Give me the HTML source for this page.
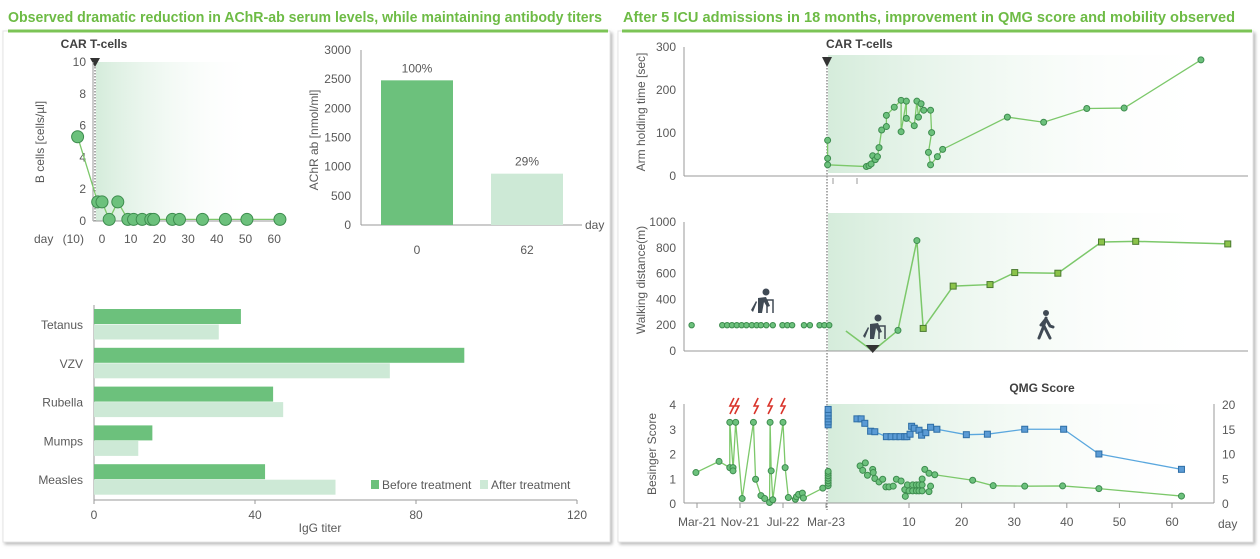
<!DOCTYPE html>
<html><head><meta charset="utf-8">
<style>
html,body{margin:0;padding:0;background:#fff;}
svg{display:block;font-family:"Liberation Sans",sans-serif;}
.t{fill:#595959;font-size:12px;}
.h{fill:#6dbb45;font-size:14.5px;font-weight:bold;}
.b{fill:#404040;font-size:12px;font-weight:bold;}
</style></head>
<body>
<svg id="fig" width="1260" height="559" viewBox="0 0 1260 559">
<defs>
<linearGradient id="shade" x1="0" x2="1" y1="0" y2="0">
<stop offset="0" stop-color="#d5ecdb"/><stop offset="1" stop-color="#ffffff" stop-opacity="0"/>
</linearGradient>
<filter id="sh" x="-5%" y="-5%" width="110%" height="110%"><feDropShadow dx="2" dy="2" stdDeviation="1.5" flood-color="#888" flood-opacity="0.6"/></filter>
</defs>
<!-- panels -->
<rect x="3" y="31" width="607" height="511" fill="#fff" stroke="#e4e4e4" filter="url(#sh)"/>
<rect x="618" y="31" width="635" height="511" fill="#fff" stroke="#e4e4e4" filter="url(#sh)"/>
<line x1="8" y1="31" x2="608" y2="31" stroke="#7cc456" stroke-width="3"/>
<line x1="622" y1="31" x2="1252" y2="31" stroke="#7cc456" stroke-width="3"/>
<text class="h" x="8" y="22" textLength="594" lengthAdjust="spacingAndGlyphs">Observed dramatic reduction in AChR-ab serum levels, while maintaining antibody titers</text>
<text class="h" x="623" y="22" textLength="612" lengthAdjust="spacingAndGlyphs">After 5 ICU admissions in 18 months, improvement in QMG score and mobility observed</text>

<!-- B cells chart -->
<g id="bcell">
<rect x="96" y="62" width="160" height="159" fill="url(#shade)"/>
<line x1="95" y1="64" x2="95" y2="221" stroke="#555" stroke-dasharray="1.5,1.5"/>
<polygon points="90,58 100,58 95,67" fill="#333"/>
<text class="b" x="94" y="48" text-anchor="middle">CAR T-cells</text>
<line x1="93" y1="62" x2="93" y2="221" stroke="#999"/>
<line x1="93" y1="221" x2="285" y2="221" stroke="#999"/>
<text class="t" transform="translate(44,142) rotate(-90)" text-anchor="middle">B cells [cells/µl]</text>
<text class="t" x="34" y="243">day</text>
</g>

<!-- AChR chart -->
<g id="achr">
<line x1="361" y1="50" x2="361" y2="225" stroke="#999"/>
<line x1="361" y1="225" x2="582" y2="225" stroke="#999"/>
<text class="t" transform="translate(318,140) rotate(-90)" text-anchor="middle">AChR ab [nmol/ml]</text>
<text class="t" x="585" y="229">day</text>
</g>

<!-- IgG chart -->
<g id="igg">
<line x1="94" y1="305" x2="94" y2="500" stroke="#999"/>
<line x1="94" y1="500" x2="577" y2="500" stroke="#999"/>
<text class="t" x="320" y="532" text-anchor="middle">IgG titer</text>
<rect x="371" y="480" width="8" height="9" fill="#6cc17c"/>
<text class="t" x="382" y="489">Before treatment</text>
<rect x="480" y="480" width="8" height="9" fill="#cde9d6"/>
<text class="t" x="491" y="489">After treatment</text>
</g>

<!-- right charts -->
<g id="right">
<rect x="828" y="55" width="390" height="118" fill="url(#shade)"/>
<rect x="828" y="213" width="390" height="138" fill="url(#shade)"/>
<rect x="828" y="404" width="386" height="99" fill="url(#shade)"/>
<line x1="827" y1="62" x2="827" y2="510" stroke="#555" stroke-dasharray="1.5,1.5"/>
<polygon points="822,57 832,57 827,67" fill="#333"/>
<text class="b" x="826" y="48">CAR T-cells</text>
<line x1="684" y1="47" x2="684" y2="176" stroke="#999"/>
<line x1="684" y1="176" x2="1248" y2="176" stroke="#999"/>
<line x1="833" y1="178" x2="833" y2="184" stroke="#999"/>
<line x1="857" y1="178" x2="857" y2="184" stroke="#999"/>
<text class="t" transform="translate(645,112) rotate(-90)" text-anchor="middle" font-size="13">Arm holding time [sec]</text>
<line x1="684" y1="222" x2="684" y2="351" stroke="#999"/>
<line x1="684" y1="351" x2="1248" y2="351" stroke="#999"/>
<text class="t" transform="translate(645,280) rotate(-90)" text-anchor="middle" font-size="13">Walking distance(m)</text>
<line x1="684" y1="404" x2="684" y2="503" stroke="#999"/>
<line x1="1214" y1="404" x2="1214" y2="503" stroke="#999"/>
<line x1="684" y1="503" x2="1214" y2="503" stroke="#999"/>
<text class="t" transform="translate(656,454) rotate(-90)" text-anchor="middle">Besinger Score</text>
<text class="b" x="1042" y="392" text-anchor="middle">QMG Score</text>
<text class="t" x="1218" y="528">day</text>
<!-- walker icons -->
<g fill="#404a55">
<circle cx="766" cy="292" r="3.5"/><path d="M758 298 L766 297 L770 306 L767 307 L764 302 L762 313 L758 313 Z"/><path d="M751 310 L756 301 L757 302 L753 312 Z"/>
<path d="M765 300 L773 300 L773 313 M767 300 L767 313" stroke="#404a55" stroke-width="1.5" fill="none"/>
</g>
<g fill="#404a55">
<circle cx="878" cy="318" r="3.5"/><path d="M870 324 L878 323 L882 332 L879 333 L876 328 L874 339 L870 339 Z"/><path d="M863 336 L868 327 L869 328 L865 338 Z"/>
<path d="M877 326 L885 326 L885 339 M879 326 L879 339" stroke="#404a55" stroke-width="1.5" fill="none"/>
</g>
<g>
<circle cx="1046" cy="313" r="3" fill="#404a55"/>
<path d="M1046 318 L1043 328 L1039 338 M1044 326 L1050 338 M1046 319 L1050 326 L1053 327 M1045 320 L1041 325" stroke="#404a55" stroke-width="3" fill="none" stroke-linecap="round"/>
</g>
</g>
</svg>
<script>
// ---- data ----
const bcellDays = [-8.5,-1.5,0,2.5,5.5,9,11,14,17,18,24.5,27,35,43,50.5,62];
const bcellValues = [5.3,1.2,1.2,0.1,1.2,0.1,0.1,0.1,0.1,0.1,0.1,0.1,0.1,0.1,0.1,0.1];
const bcellYTicks = [0,2,4,6,8,10];
const bcellXTicks = [-10,0,10,20,30,40,50,60];
const bcellXTickLabels = ['(10)','0','10','20','30','40','50','60'];

const achrCategories = ['0','62'];
const achrValues = [2480,880];
const achrLabels = ['100%','29%'];
const achrYTicks = [0,500,1000,1500,2000,2500,3000];

const iggCategories = ['Tetanus','VZV','Rubella','Mumps','Measles'];
const iggBefore = [36.5,92,44.5,14.5,42.5];
const iggAfter = [31,73.5,47,11,60];
const iggXTicks = [0,40,80,120];

const armPreMonths = [24.3,24.3,24.3];
const armPreValues = [83,41,26];
const armDays = [1.9,2.4,2.8,3.1,3.6,4.0,4.3,4.8,5.7,5.7,7.2,8.5,8.5,9.5,9.5,11.0,11.5,11.8,12.3,12.8,14.1,14.3,13.7,14.1,15.4,16.4,28.7,35.6,43.8,50.9,65.5];
const armValues = [22,24,28,47,38,45,66,107,115,141,160,176,103,174,134,117,174,137,168,153,153,101,55,26,45,62,137,125,157,158,270];
const armYTicks = [0,100,200,300];

const walkPreMonths = [-1,4.7,5.6,6.5,7.4,8.3,9.2,10.2,11.1,11.9,12.9,14.1,15.9,16.8,17.7,19.9,21.0,22.8,23.7,24.6];
const walkPreValues = [200,200,200,200,200,200,200,200,200,200,200,200,200,200,200,200,200,200,200,200];
const walkCircleDays = [7.9,11.5];
const walkCircleValues = [160,856];
const walkSquareDays = [12.7,18.4,25.4,30.1,38.3,46.6,53.1,70.6];
const walkSquareValues = [175,503,515,608,603,845,850,830];
const walkLineDays = [-2,3.1,7.9,11.5,12.7,18.4,25.4,30.1,38.3,46.6,53.1,70.6];
const walkLineValues = [155,0,160,856,175,503,515,608,603,845,850,830];
const walkYTicks = [0,200,400,600,800,1000];

const besPreMonths = [-0.2,4.1,6.1,6.1,6.7,6.7,7.2,8.4,10.5,10.9,11.9,12.6,13.5,13.6,13.8,14.1,16.0,16.4,17.0,18.3,18.5,18.9,19.6,19.8,23.4,24.4,24.4,24.4,24.4,24.4,24.4,24.4];
const besPreValues = [1.23,1.68,1.43,3.26,1.43,1.30,3.26,0.18,3.26,0.96,0.30,0.18,0.02,3.26,1.3,0.13,3.26,1.43,0.22,0.15,0.25,0.35,0.4,0.2,0.6,0.7,0.8,0.9,1.0,1.1,1.2,1.28];
const besPostDays = [0.7,1.2,1.7,2.1,3.1,3.2,3.5,4.3,5.0,5.6,6.2,7.0,7.6,8.5,9.2,9.3,9.7,10.0,10.7,10.7,11.4,11.4,11.9,11.9,12.5,12.5,12.5,13.0,13.8,13.8,14.1,14.9,22.1,26.0,32.0,39.2,46.1,61.8];
const besPostValues = [1.5,1.32,1.62,1.12,1.36,1.23,0.99,0.85,0.96,0.65,0.65,0.68,0.96,0.89,0.54,0.27,0.73,0.49,0.73,0.49,0.73,0.49,0.73,0.49,0.73,0.49,0.97,1.36,1.2,0.46,0.68,1.14,0.92,0.7,0.68,0.69,0.58,0.28];
const besLineStart = 31;
const qmgPreValues = [15.8,16.4,17.0,17.6,18.2,18.9];
const qmgDays = [0.1,0.9,1.6,2.7,3.5,5.7,6.6,7.5,8.3,9.2,9.6,10.2,10.5,11.0,11.9,12.4,13.2,14.1,15.3,20.9,24.9,32.0,39.4,46.1,61.8];
const qmgValues = [17.0,17.0,16.1,14.5,14.4,13.4,13.4,13.4,13.4,13.4,13.4,13.9,15.5,15.1,14.7,13.7,14.2,15.3,14.9,13.8,13.9,14.9,14.9,9.9,6.8];
const besYTicks = [0,1,2,3,4];
const qmgYTicks = [0,5,10,15,20];
const monthTicks = [0,8,16,24];
const monthTickLabels = ['Mar-21','Nov-21','Jul-22','Mar-23'];
const dayTicks = [10,20,30,40,50,60];
const flareMonths = [6.5,7.4,11.0,13.6,16.0];

// ---- scales ----
const bx = d => 102 + d*2.87, by = v => 221 - v*15.9;
const ay = v => 225 - v*175/3000;
const ix = v => 94 + v*4.025;
const dx = d => 856.4 + d*5.26, mx = m => 697 + m*5.375;
const armY = v => 176 - v*0.43, walkY = v => 351 - v*0.129;
const besY = v => 503 - v*24.75, qmgY = v => 503 - v*4.95;

const NS = 'http://www.w3.org/2000/svg';
const svg = document.getElementById('fig');
function mk(tag, attrs, parent){
  const e = document.createElementNS(NS, tag);
  for (const k in attrs) e.setAttribute(k, attrs[k]);
  (parent||svg).appendChild(e);
  return e;
}
function txt(x,y,s,anchor,cls){
  const t = mk('text',{x:x,y:y,'text-anchor':anchor||'middle','class':cls||'t'});
  t.textContent = s;
  return t;
}
const GF = '#6cc17c', GS = '#3d8c4e', GL = '#7cc86a';

// B cells
bcellYTicks.forEach(v=>{const t=txt(86,by(v)+4,v,'end');

});
bcellXTicks.forEach((d,i)=>{const t=txt(bx(d),243,bcellXTickLabels[i]);

});
{const p=mk('polyline',{points:bcellDays.map((d,i)=>bx(d)+','+by(bcellValues[i])).join(' '),fill:'none',stroke:GL,'stroke-width':1.3});

}
bcellDays.forEach((d,i)=>{const c=mk('circle',{cx:bx(d),cy:by(bcellValues[i]),r:6,fill:GF,stroke:GS});

});

// AChR
achrYTicks.forEach(v=>{const t=txt(351,ay(v)+4,v,'end');

});
achrCategories.forEach((c,i)=>{
  const cx = 417 + i*110;
  const r=mk('rect',{x:cx-36,y:ay(achrValues[i]),width:72,height:225-ay(achrValues[i]),fill:i?'#cde9d6':'#6cc17c'});
  
  
  const l=txt(cx,ay(achrValues[i])-8,achrLabels[i],'middle');
  l.setAttribute('font-size','13');
  
  
  const t=txt(cx,254,c);
  
  
});

// IgG
iggXTicks.forEach(v=>{
  const k=mk('line',{x1:ix(v),y1:500,x2:ix(v),y2:504,stroke:'#999'});
  
  
  const t=txt(ix(v),519,v);
  t.setAttribute('font-size','13');
  
  });
iggCategories.forEach((c,i)=>{
  const top = 309 + i*38.8;
  const r1=mk('rect',{x:94,y:top,width:ix(iggBefore[i])-94,height:15,fill:'#6cc17c'});
  
  
  const r2=mk('rect',{x:94,y:top+15.5,width:ix(iggAfter[i])-94,height:15,fill:'#cde9d6'});
  
  
  const t=txt(83,top+20,c,'end');
  
  
});

// Arm holding
armYTicks.forEach(v=>{const t=txt(676,armY(v)+4,v,'end');
t.setAttribute('font-size','13');

});
{const pts = armPreMonths.map((m,i)=>mx(m)+','+armY(armPreValues[i])).concat(armDays.map((d,i)=>dx(d)+','+armY(armValues[i])));
const p=mk('polyline',{points:pts.join(' '),fill:'none',stroke:GL,'stroke-width':1.3});

}
armPreMonths.forEach((m,i)=>{const c=mk('circle',{cx:mx(m),cy:armY(armPreValues[i]),r:3,fill:GF,stroke:GS});

});
armDays.forEach((d,i)=>{const c=mk('circle',{cx:dx(d),cy:armY(armValues[i]),r:3,fill:GF,stroke:GS});

});

// Walking
walkYTicks.forEach(v=>{const t=txt(676,walkY(v)+4,v,'end');
t.setAttribute('font-size','13');

});
{const p=mk('polyline',{points:walkLineDays.map((d,i)=>dx(d)+','+walkY(walkLineValues[i])).join(' '),fill:'none',stroke:GL,'stroke-width':1.5});

}
{const d0=dx(walkLineDays[1]);
const m=mk('polygon',{points:(d0-7)+','+(walkY(0)-6)+' '+(d0+7)+','+(walkY(0)-6)+' '+d0+','+(walkY(0)+2),fill:'#333'});

}
walkPreMonths.forEach((m,i)=>{const c=mk('circle',{cx:mx(m),cy:walkY(walkPreValues[i]),r:2.7,fill:GF,stroke:GS});

});
walkCircleDays.forEach((d,i)=>{const c=mk('circle',{cx:dx(d),cy:walkY(walkCircleValues[i]),r:3,fill:GF,stroke:GS});

});
walkSquareDays.forEach((d,i)=>{const r=mk('rect',{x:dx(d)-3,y:walkY(walkSquareValues[i])-3,width:6,height:6,fill:'#8bc34a',stroke:'#4a7a30'});

});

// Besinger / QMG
besYTicks.forEach(v=>{const t=txt(676,besY(v)+5,v,'end');
t.setAttribute('font-size','13');

});
qmgYTicks.forEach(v=>{const t=txt(1222,qmgY(v)+5,v,'start');
t.setAttribute('font-size','13');

});
monthTicks.forEach((m,i)=>{
  const k=mk('line',{x1:mx(m),y1:503,x2:mx(m),y2:508,stroke:'#999'});
  
  
  const t=txt(mx(m),526,monthTickLabels[i]);
  
  
});
dayTicks.forEach(d=>{
  const k=mk('line',{x1:dx(d),y1:503,x2:dx(d),y2:508,stroke:'#999'});
  
  
  const t=txt(dx(d),526,d);
  
  
});
flareMonths.forEach(m=>{
  const x=mx(m);
  const f=mk('polyline',{points:(x+2)+',398 '+(x-2)+',406 '+(x+2)+',406 '+(x-2)+',414',fill:'none',stroke:'#d9342b','stroke-width':1.6});
  
  
});
{const p=mk('polyline',{points:besPreMonths.map((m,i)=>mx(m)+','+besY(besPreValues[i])).join(' '),fill:'none',stroke:GL,'stroke-width':1.3});

}
{const pts=[];for(let i=besLineStart;i<besPostDays.length;i++)pts.push(dx(besPostDays[i])+','+besY(besPostValues[i]));
const p=mk('polyline',{points:pts.join(' '),fill:'none',stroke:GL,'stroke-width':1.3});

}
{const p=mk('polyline',{points:qmgDays.map((d,i)=>dx(d)+','+qmgY(qmgValues[i])).join(' '),fill:'none',stroke:'#5aa7de','stroke-width':1.3});

}
besPreMonths.forEach((m,i)=>{const c=mk('circle',{cx:mx(m),cy:besY(besPreValues[i]),r:3,fill:GF,stroke:GS});

});
besPostDays.forEach((d,i)=>{const c=mk('circle',{cx:dx(d),cy:besY(besPostValues[i]),r:3,fill:GF,stroke:GS});

});
qmgPreValues.forEach(v=>{const r=mk('rect',{x:mx(24.4)-3,y:qmgY(v)-3,width:6,height:6,fill:'#5b9bd5',stroke:'#2e6ea6'});

});
qmgDays.forEach((d,i)=>{const r=mk('rect',{x:dx(d)-3,y:qmgY(qmgValues[i])-3,width:6,height:6,fill:'#5b9bd5',stroke:'#2e6ea6'});

});
</script>
</body></html>
